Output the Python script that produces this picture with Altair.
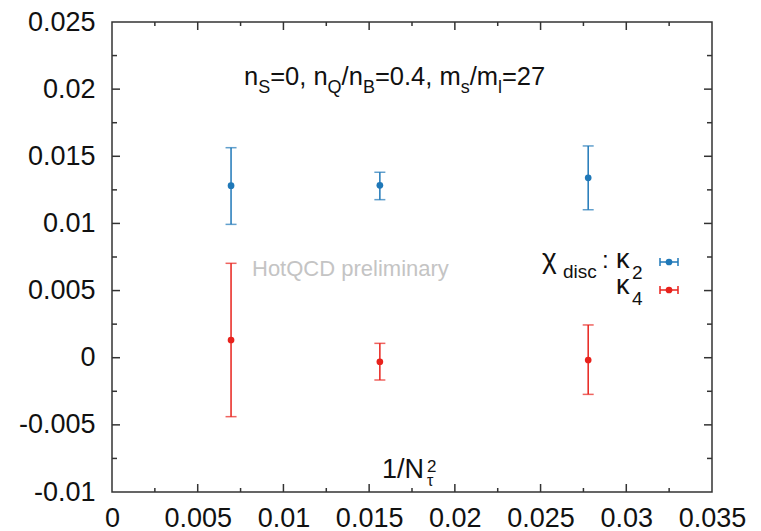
import altair as alt
import pandas as pd

# ---------------- data ----------------
x_vals = [1 / 144, 1 / 64, 1 / 36]
k2_y = [0.01281, 0.01284, 0.0134]
k2_lo = [0.00993, 0.01177, 0.01102]
k2_hi = [0.01564, 0.01381, 0.01577]
k4_y = [0.00132, -0.0003, -0.00017]
k4_lo = [-0.00439, -0.00166, -0.00273]
k4_hi = [0.00703, 0.00107, 0.00244]

x_ticks = [0, 0.005, 0.01, 0.015, 0.02, 0.025, 0.03, 0.035]
x_minor = [0.0025, 0.0075, 0.0125, 0.0175, 0.0225, 0.0275, 0.0325]
y_ticks = [-0.01, -0.005, 0, 0.005, 0.01, 0.015, 0.02, 0.025]
y_minor = [-0.0075, -0.0025, 0.0025, 0.0075, 0.0125, 0.0175, 0.0225]

series_names = ["k2", "k4"]
colors = ["#1f78b8", "#e8221c"]

W, H = 600, 470
FONT = "Liberation Sans"
FRAME = "#333333"

rows = []
for s, ys, los, his in [("k2", k2_y, k2_lo, k2_hi), ("k4", k4_y, k4_lo, k4_hi)]:
    for x, y, lo, hi in zip(x_vals, ys, los, his):
        rows.append({"x": x, "y": y, "lo": lo, "hi": hi, "s": s})
df = pd.DataFrame(rows)
caps = pd.concat([
    df[["x", "s"]].assign(v=df["lo"]),
    df[["x", "s"]].assign(v=df["hi"]),
])

xs = alt.Scale(domain=[0, 0.035], nice=False, zero=False)
ys_ = alt.Scale(domain=[-0.01, 0.025], nice=False, zero=False)
col = alt.Color("s:N", scale=alt.Scale(domain=series_names, range=colors), legend=None)

x_axis = alt.Axis(values=x_ticks, labelExpr="toString(datum.value)", title=None,
                  tickSize=0, domain=False, grid=False, labelFontSize=27,
                  labelFont=FONT, labelColor="#111", labelPadding=13,
                  labelFlush=False, labelOverlap=False)
y_axis = alt.Axis(values=y_ticks, labelExpr="toString(datum.value)", title=None,
                  tickSize=0, domain=False, grid=False, labelFontSize=27,
                  labelFont=FONT, labelColor="#111", labelPadding=17,
                  labelFlush=False, labelOverlap=False)


def X(f):
    return alt.X(f, scale=xs, axis=x_axis)


def Y(f):
    return alt.Y(f, scale=ys_, axis=y_axis)


base = alt.Chart(df)
bars = base.mark_rule(strokeWidth=1.5).encode(
    x=X("x:Q"), y=Y("lo:Q"), y2="hi:Q", color=col)
capmarks = alt.Chart(caps).mark_tick(orient="horizontal", size=11, thickness=1.5).encode(
    x=X("x:Q"), y=Y("v:Q"), color=col)
pts = base.mark_circle(size=45, opacity=1).encode(
    x=X("x:Q"), y=Y("y:Q"), color=col)

# ---------------- inward ticks on all four sides ----------------
def xticks(vals, length):
    d = pd.DataFrame({"v": vals})
    bot = alt.Chart(d).mark_rule(color=FRAME, strokeWidth=1.5).encode(
        x=X("v:Q"), y=alt.value(H), y2=alt.value(H - length))
    top = alt.Chart(d).mark_rule(color=FRAME, strokeWidth=1.5).encode(
        x=X("v:Q"), y=alt.value(0), y2=alt.value(length))
    return [bot, top]


def yticks(vals, length):
    d = pd.DataFrame({"v": vals})
    left = alt.Chart(d).mark_rule(color=FRAME, strokeWidth=1.5).encode(
        y=Y("v:Q"), x=alt.value(0), x2=alt.value(length))
    right = alt.Chart(d).mark_rule(color=FRAME, strokeWidth=1.5).encode(
        y=Y("v:Q"), x=alt.value(W), x2=alt.value(W - length))
    return [left, right]


tick_layers = xticks(x_ticks[1:-1], 8) + xticks(x_minor, 4) + yticks(y_ticks[1:-1], 8) + yticks(y_minor, 5)

# ---------------- text ----------------
ADV = {"0": 556, "1": 556, "2": 556, "4": 556, "7": 556, "=": 584, ",": 278, " ": 278,
       "/": 278, ".": 278, "n": 556, "m": 833, "s": 500, "l": 222, "S": 667, "Q": 778,
       "B": 667}


def width(t, size):
    return sum(ADV.get(c, 556) for c in t) * size / 1000


def txt(t, x, y, size, color="#111", align="left"):
    return alt.Chart(pd.DataFrame({"t": [t]})).mark_text(
        align=align, baseline="alphabetic", font=FONT, fontSize=size, color=color
    ).encode(x=alt.value(x), y=alt.value(y), text="t:N")


title_segs = [("n", 0), ("S", 1), ("=0, n", 0), ("Q", 1), ("/n", 0), ("B", 1),
              ("=0.4, m", 0), ("s", 1), ("/m", 0), ("l", 1), ("=27", 0)]
MAIN, SUB = 25.5, 18
tx = 132
text_layers = []
for t, sub in title_segs:
    size = SUB if sub else MAIN
    text_layers.append(txt(t, tx, 63 + (8 if sub else 0), size))
    tx += width(t, size)

text_layers.append(txt("HotQCD preliminary", 140, 254, 22, color="#c4c4c4"))

# legend
text_layers += [
    txt("χ", 430, 246, 28),
    txt("disc", 451, 256, 19),
    txt(":", 490, 246, 24),
    txt("κ", 504, 246, 27),
    txt("2", 520, 257, 19),
    txt("κ", 504, 272, 27),
    txt("4", 520, 283, 19),
]

# x-axis label
text_layers += [
    txt("1/N", 270, 456, 27),
    txt("2", 315, 450, 17),
    txt("τ", 315, 464, 16),
]

# legend samples
leg_layers = []
for c, yy in [(colors[0], 240), (colors[1], 268)]:
    d = pd.DataFrame({"k": [0]})
    leg_layers.append(alt.Chart(d).mark_rule(color=c, strokeWidth=1.5).encode(
        x=alt.value(548), x2=alt.value(566), y=alt.value(yy)))
    for xx in (548, 566):
        leg_layers.append(alt.Chart(d).mark_rule(color=c, strokeWidth=1.5).encode(
            x=alt.value(xx), y=alt.value(yy - 4), y2=alt.value(yy + 4)))
    leg_layers.append(alt.Chart(d).mark_point(filled=True, size=45, opacity=1, color=c).encode(
        x=alt.value(557), y=alt.value(yy)))

chart = alt.layer(bars, capmarks, pts, *tick_layers, *text_layers, *leg_layers).properties(
    width=W, height=H,
    padding={"left": 112, "top": 22, "right": 49, "bottom": 39},
    autosize="none",
    background="white",
).configure_view(stroke=FRAME, strokeWidth=1.5)

chart.save("out.html", embed_options={"renderer": "svg", "actions": False})
